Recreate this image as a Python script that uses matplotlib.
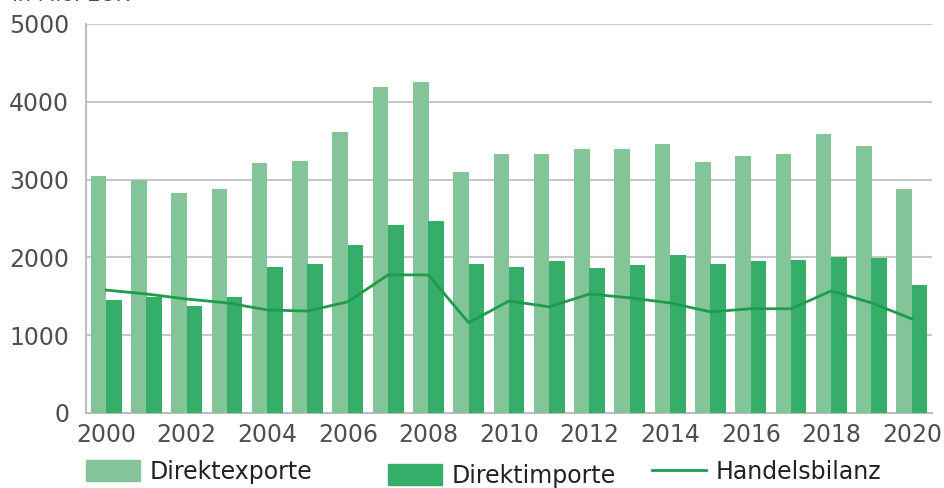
import numpy as np
import matplotlib.pyplot as plt
from matplotlib.lines import Line2D
from matplotlib.patches import Patch

years = list(range(2000, 2021))
exporte = [3050, 3000, 2830, 2880, 3210, 3240, 3610, 4190, 4250, 3100, 3330,
           3330, 3390, 3390, 3460, 3230, 3300, 3330, 3590, 3430, 2880]
importe = [1450, 1490, 1380, 1490, 1880, 1910, 2160, 2420, 2470, 1915, 1880,
           1950, 1865, 1905, 2030, 1915, 1955, 1965, 2005, 1990, 1645]
bilanz = [1580, 1530, 1465, 1415, 1325, 1310, 1430, 1775, 1775, 1160, 1440,
          1365, 1530, 1480, 1415, 1300, 1340, 1340, 1570, 1415, 1210]

C_EXP = "#83c598"
C_IMP = "#35ae6a"
C_BIL = "#1f9b4c"
C_GRID = "#c9c9c9"
C_TXT = "#4f4f4f"

plt.rcParams["font.family"] = ["DejaVu Sans"]

fig = plt.figure(figsize=(9.44, 4.88), dpi=100)
ax = fig.add_axes([86 / 944, 1 - 413 / 488, 846 / 944, 389 / 488])

x = np.arange(len(years))
w = 0.385
ax.bar(x - 0.19, exporte, width=w, color=C_EXP, zorder=3)
ax.bar(x + 0.19, importe, width=w, color=C_IMP, zorder=3)
ax.plot(x, bilanz, color=C_BIL, lw=2, zorder=4)

ax.set_xlim(-0.5, len(years) - 0.5)
ax.set_ylim(0, 5000)
ax.set_yticks(range(0, 5001, 1000))
ax.set_xticks(x[::2])
ax.set_xticklabels([str(y) for y in years[::2]])
ax.tick_params(axis="both", length=0, labelsize=17, colors=C_TXT)
ax.tick_params(axis="y", pad=12)
ax.tick_params(axis="x", pad=7)
ax.grid(axis="y", color=C_GRID, lw=1.5, zorder=0)
for s in ["top", "right"]:
    ax.spines[s].set_visible(False)
for s in ["left", "bottom"]:
    ax.spines[s].set_color("#bdbdbd")
    ax.spines[s].set_linewidth(1.5)

# unit label, cut at the top edge like in the source
fig.text(12 / 944, 1 - 5 / 488, "in Mio. EUR", fontsize=15, color=C_TXT,
         va="bottom", ha="left")

leg_kw = dict(frameon=False, fontsize=17, handlelength=2.3, handleheight=1.0,
              handletextpad=0.4, borderaxespad=0, borderpad=0,
              labelcolor="#222222")
fig.legend([Patch(color=C_EXP)], ["Direktexporte"], loc="center left",
           bbox_to_anchor=(86 / 944, 1 - 472 / 488), **leg_kw)
fig.legend([Patch(color=C_IMP)], ["Direktimporte"], loc="center left",
           bbox_to_anchor=(388 / 944, 1 - 476 / 488), **leg_kw)
fig.legend([Line2D([], [], color=C_BIL, lw=2)], ["Handelsbilanz"],
           loc="center left", bbox_to_anchor=(652 / 944, 1 - 472 / 488),
           **leg_kw)

fig.savefig("out.png", dpi=100)
